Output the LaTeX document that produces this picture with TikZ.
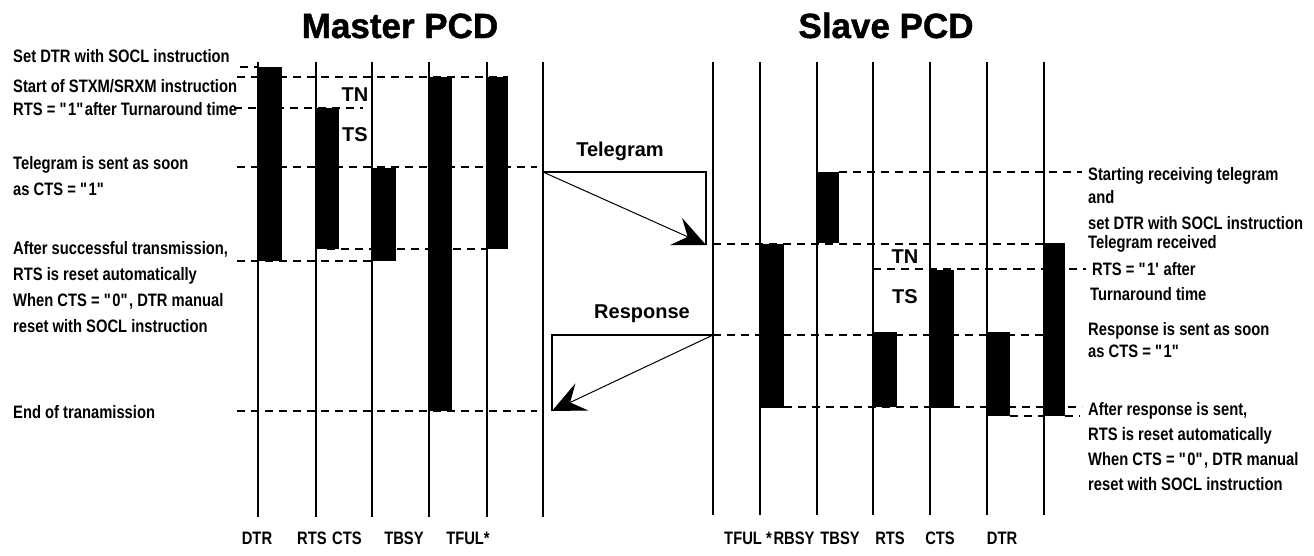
\documentclass[tikz,border=0pt]{standalone}
\usepackage{fontspec}
\setmainfont{Liberation Sans}[FakeStretch=0.82]
\newfontfamily\headfont{Liberation Sans}
\newfontfamily\titlefont{Liberation Sans}[BoldFeatures={FakeBold=1.2}]
\usetikzlibrary{arrows.meta}

\newcommand{\dq}{\textquotedbl}
\newcommand{\sq}{\textquotesingle}

\tikzset{
  sig/.style={line width=1.1pt},
  guide/.style={line width=1.1pt, dash pattern=on 8pt off 6pt},
  note/.style={font=\fontsize{18}{26}\selectfont\bfseries, anchor=base west, inner sep=0pt, align=left},
  lbl/.style={font=\fontsize{18}{20}\selectfont\bfseries, anchor=base, inner sep=0pt},
  tag/.style={font=\headfont\fontsize{20}{22}\selectfont\bfseries, inner sep=0pt},
  head/.style={font=\titlefont\fontsize{35}{38}\selectfont\bfseries, anchor=base, inner sep=0pt},
  msg/.style={line width=1pt, -{Stealth[length=33pt, width=30pt, inset=13pt]}}
}

\begin{document}
\begin{tikzpicture}[x=1pt, y=-1pt]
  \useasboundingbox (0,0) rectangle (1314,555);

  % titles
  \node[head] (mhead) at (400,38) {Master PCD};
  \node[head] (shead) at (886,38) {Slave PCD};

  % signal lines
  \foreach \n/\x in {mdtr/258, mrts/316, mcts/372, mtbsy/429, mtful/487, mout/543} {
    \coordinate (\n-t) at (\x,62);
    \coordinate (\n-b) at (\x,517);
    \draw[sig] (\n-t) -- (\n-b);
  }
  \foreach \n/\x in {sin/713, stful/760, srbsy/817, stbsy/873, srts/930, scts/987, sdtr/1044} {
    \coordinate (\n-t) at (\x,62);
    \coordinate (\n-b) at (\x,515);
    \draw[sig] (\n-t) -- (\n-b);
  }

  % master bars
  \fill (258,67) rectangle (282,261);
  \fill (316,108) rectangle (339,249);
  \fill (372,168) rectangle (396,261);
  \fill (429,77) rectangle (452,411);
  \fill (487,77) rectangle (508,249);

  % slave bars
  \fill (760,244) rectangle (784,408);
  \fill (817,172) rectangle (839,243);
  \fill (873,332) rectangle (897,407);
  \fill (930,270) rectangle (954,408);
  \fill (987,332) rectangle (1010,416);
  \fill (1044,243) rectangle (1065,416);

  % dashed time marks, master side
  \draw[guide] (240,67) -- (258,67);
  \draw[guide] (237,77) -- (508,77);
  \draw[guide] (234,108) -- (363,108);
  \draw[guide] (237,167) -- (537,167);
  \draw[guide] (327,249) -- (487,249);
  \draw[guide] (237,261) -- (372,261);
  \draw[guide] (237,411) -- (537,411);

  % dashed time marks, slave side
  \draw[guide] (839,172) -- (1082,172);
  \draw[guide] (713,244) -- (1044,244);
  \draw[guide] (873,269) -- (1086,269);
  \draw[guide] (713,335) -- (1044,335);
  \draw[guide] (784,407) -- (1044,407);
  \draw[guide] (1068,407) -- (1082,407);
  \draw[guide] (1010,416) -- (1044,416);
  \draw[guide] (1065,416) -- (1080,416);

  % telegram and response
  \coordinate (tg-s) at (543,172);
  \coordinate (tg-c) at (706,172);
  \coordinate (tg-e) at (706,245);
  \draw[sig] (tg-s) -- (tg-c) -- (tg-e);
  \draw[msg] (tg-s) -- (tg-e);
  \node[tag, anchor=base] (tglbl) at (620,156) {Telegram};

  \coordinate (rs-s) at (713,335);
  \coordinate (rs-c) at (552,335);
  \coordinate (rs-e) at (552,411);
  \draw[sig] (rs-s) -- (rs-c) -- (rs-e);
  \draw[msg] (rs-s) -- (rs-e);
  \node[tag, anchor=base] (rslbl) at (642,318) {Response};

  % TN / TS
  \node[tag] (mtn) at (355,95) {TN};
  \node[tag] (mts) at (355,135) {TS};
  \node[tag] (stn) at (905,257) {TN};
  \node[tag] (sts) at (905,297) {TS};

  % master notes (base = last line)
  \node[note] (m1) at (13,62) {Set DTR with SOCL instruction};
  \node[note] (m2) at (13,92) {Start of STXM/SRXM instruction};
  \node[note] (m3) at (13,115) {RTS = \dq1\dq after Turnaround time};
  \node[note] (m4) at (13,195) {Telegram is sent as soon\\as CTS = \dq1\dq};
  \node[note] (m5) at (13,332) {After successful transmission,\\RTS is reset automatically\\When CTS = \dq0\dq, DTR manual\\reset with SOCL instruction};
  \node[note] (m6) at (13,418) {End of tranamission};

  % slave notes
  \node[note] (s1) at (1088,180) {Starting receiving telegram};
  \node[note] (s2) at (1088,203) {and};
  \node[note] (s3) at (1088,229) {set DTR with SOCL instruction};
  \node[note] (s4) at (1088,248) {Telegram received};
  \node[note] (s5) at (1092,275) {RTS = \dq1\sq\ after};
  \node[note] (s6) at (1090,300) {Turnaround time};
  \node[note, font=\fontsize{18}{22}\selectfont\bfseries] (s7) at (1088,357) {Response is sent as soon\\as CTS = \dq1\dq};
  \node[note, font=\fontsize{18}{25}\selectfont\bfseries] (s8) at (1088,490) {After response is sent,\\RTS is reset automatically\\When CTS = \dq0\dq, DTR manual\\reset with SOCL instruction};

  % signal names
  \node[lbl] (lmdtr) at (257,544) {DTR};
  \node[lbl] (lmrts) at (312,544) {RTS};
  \node[lbl] (lmcts) at (347,544) {CTS};
  \node[lbl] (lmtbsy) at (404,544) {TBSY};
  \node[lbl] (lmtful) at (468,544) {TFUL*};
  \node[lbl] (lstful) at (748,544) {TFUL *};
  \node[lbl] (lsrbsy) at (794,544) {RBSY};
  \node[lbl] (lstbsy) at (840,544) {TBSY};
  \node[lbl] (lsrts) at (890,544) {RTS};
  \node[lbl] (lscts) at (940,544) {CTS};
  \node[lbl] (lsdtr) at (1002,544) {DTR};
\end{tikzpicture}
\end{document}
